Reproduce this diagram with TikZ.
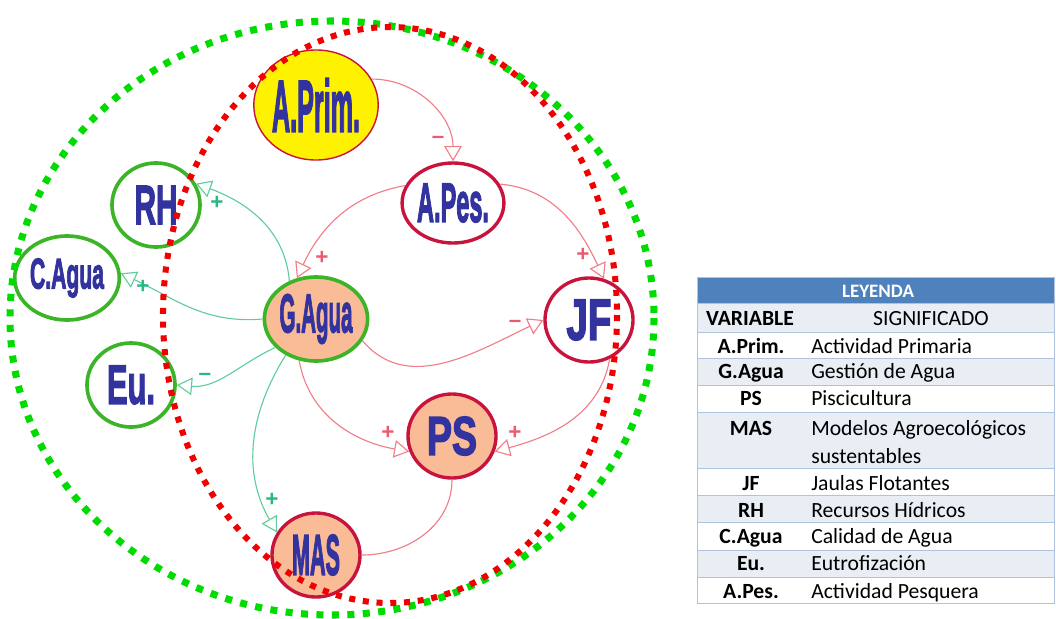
\documentclass[tikz,border=0pt]{standalone}
\usepackage{fontspec}
\setsansfont{Liberation Sans}
\newfontfamily\tablefont{Carlito}
\newfontfamily\varfont[FakeBold=3]{Liberation Sans Bold}
\usetikzlibrary{arrows.meta,shapes.geometric}
\definecolor{varblue}{RGB}{51,51,160}
\definecolor{ringgreen}{RGB}{60,180,40}
\definecolor{ringred}{RGB}{200,20,60}
\definecolor{varfill}{RGB}{250,188,150}
\definecolor{linkred}{RGB}{240,125,135}
\definecolor{linkgreen}{RGB}{95,205,155}
\definecolor{signred}{RGB}{235,90,110}
\definecolor{signgreen}{RGB}{40,185,125}
\definecolor{dotgreen}{RGB}{0,220,0}
\definecolor{dotred}{RGB}{240,0,0}
\definecolor{legblue}{RGB}{79,129,189}
\definecolor{legrow}{RGB}{233,237,244}
\definecolor{legline}{RGB}{175,195,222}
\newdimen\pxu \pxu=0.025cm
\newcommand{\vartext}[3]{\resizebox{#1\pxu}{#2\pxu}{\varfont #3}}

\begin{document}
\begin{tikzpicture}[x=0.025cm, y=-0.025cm,
  var/.style={ellipse, inner sep=0pt, minimum width=2.2cm, minimum height=2.1cm, text=varblue, fill=white},
  grvar/.style={var, draw=ringgreen, line width=2.6pt},
  rdvar/.style={var, draw=ringred, line width=2.4pt},
  lnk/.style={line width=0.8pt, -{Triangle[open, length=3.8mm, width=4.4mm]}},
  lnkr/.style={lnk, draw=linkred},
  lnkg/.style={lnk, draw=linkgreen},
  sgn/.style={font=\sffamily\bfseries\fontsize{16}{16}\selectfont, inner sep=0pt},
  legkey/.style={anchor=base, inner sep=0pt, font=\tablefont\bfseries\fontsize{15.4}{18}\selectfont},
  legval/.style={anchor=base west, inner sep=0pt, font=\tablefont\fontsize{15.4}{18}\selectfont}]
\useasboundingbox (0,0) rectangle (1056,618);

% variables
\node[var, draw=ringred, line width=1pt, fill=yellow, minimum width=2.95cm, minimum height=2.75cm] (aprim) at (316,105) {\vartext{88}{53}{A.Prim.}};
\node[rdvar, minimum width=2.25cm, minimum height=2.0cm] (apes) at (453,203) {\vartext{72}{38}{A.Pes.}};
\node[grvar] (rh) at (156,205) {\vartext{43}{38}{RH}};
\node[grvar] (cagua) at (67,278) {\vartext{74}{30}{C.Agua}};
\node[grvar] (eu) at (131,385) {\vartext{48}{38}{Eu.}};
\node[grvar, fill=varfill] (gagua) at (316,319) {\vartext{73}{38}{G.Agua}};
\node[rdvar] (jf) at (589,320) {\vartext{45}{40}{JF}};
\node[rdvar, fill=varfill] (ps) at (452,436) {\vartext{50}{38}{PS}};
\node[rdvar, fill=varfill] (mas) at (316,555) {\vartext{48}{40}{MAS}};

% links
\begin{scope}[on background layer/.try]
\draw[lnkr] (aprim.25) to[out=0, in=90] (apes.north);
\draw[lnkr] (apes.160) to[out=190, in=65] (gagua.115);
\draw[lnkr] (apes.22) to[out=-5, in=115] (jf.70);
\draw[lnkr] (gagua.-25) to[out=-50, in=205] (jf.180);
\draw[lnkr] (gagua.-112) to[out=-80, in=170] (ps.200);
\draw[lnkr] (jf.-62) to[out=-100, in=15] (ps.-20);
\draw[linkred, line width=0.8pt] (ps.south) to[out=-90, in=0] (mas.east);
\draw[lnkg] (gagua.125) to[out=95, in=-20] (rh.28);
\draw[lnkg] (gagua.180) to[out=185, in=-25] (cagua.5);
\draw[lnkg] (gagua.215) to[out=205, in=-5] (eu.east);
\draw[lnkg] (gagua.230) to[out=238, in=120] (mas.150);
\end{scope}
\node[sgn, signred] (s1) at (438,140) {–};
\node[sgn, signred] (s2) at (322,258) {+};
\node[sgn, signred] (s3) at (583,255) {+};
\node[sgn, signred] (s4) at (515,324) {–};
\node[sgn, signred] (s5) at (388,433) {+};
\node[sgn, signred] (s6) at (515,433) {+};
\node[sgn, signgreen] (s7) at (217,203) {+};
\node[sgn, signgreen] (s8) at (143,287) {+};
\node[sgn, signgreen] (s9) at (205,377) {–};
\node[sgn, signgreen] (s10) at (272,500) {+};

% dotted rings
\draw[dotgreen, line width=5pt, dash pattern=on 5pt off 6pt] (332,318) ellipse [x radius=322, y radius=297];
\draw[dotred, line width=4.3pt, dash pattern=on 4.3pt off 5.5pt] (390,315) ellipse [x radius=227, y radius=288];

% legend
\fill[legblue] (697,277) rectangle (1054,303);
\foreach \t/\b in {303/332, 358/385, 412/468, 495/522, 550/577}
  \fill[legrow] (697,\t) rectangle (1054,\b);
\foreach \y in {303,332,358,385,412,468,495,522,550,577}
  \draw[legline] (697,\y) -- (1054,\y);
\draw[legline] (697,277) rectangle (1054,603);
\node[legkey, text=white, font=\tablefont\bfseries\fontsize{13.5}{16}\selectfont] (leghead) at (878,297) {LEYENDA};
\node[legkey] (keyhead) at (750,325) {VARIABLE};
\node[legkey, font=\tablefont\fontsize{15.4}{18}\selectfont] (valhead) at (931,325) {SIGNIFICADO};
\foreach \k/\v/\y [count=\i] in {A.Prim./Actividad Primaria/353, G.Agua/Gestión de Agua/378,
    PS/Piscicultura/405, MAS/Modelos Agroecológicos/435, JF/Jaulas Flotantes/490.5,
    RH/Recursos Hídricos/517, C.Agua/Calidad de Agua/543, Eu./Eutrofización/570,
    A.Pes./Actividad Pesquera/598} {
  \node[legkey] (key\i) at (751,\y) {\k};
  \node[legval] (val\i) at (811,\y) {\v};
}
\node[legval] (valmas) at (811,463) {sustentables};
\end{tikzpicture}
\end{document}
